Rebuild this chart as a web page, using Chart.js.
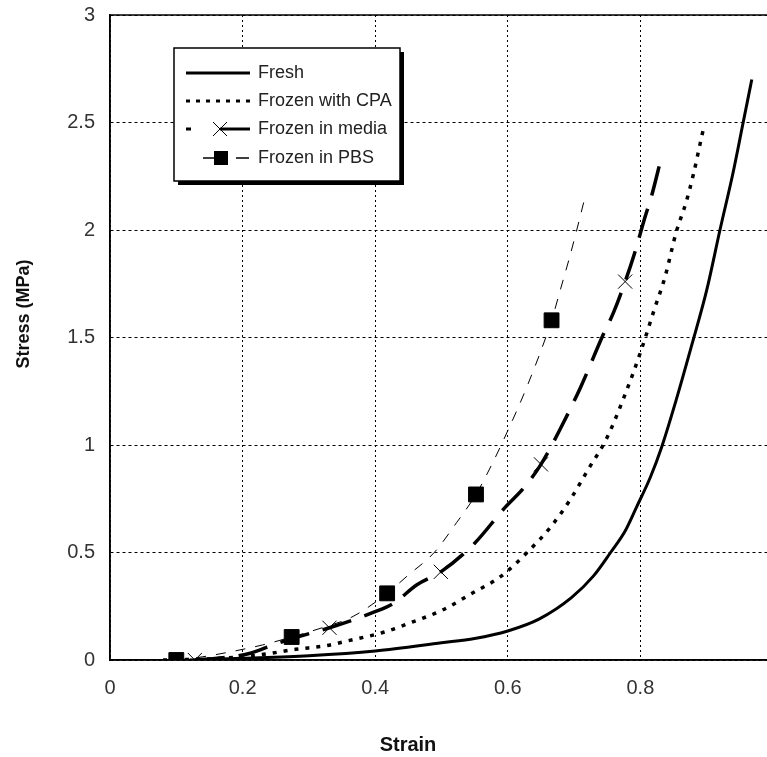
<!DOCTYPE html>
<html>
<head>
<meta charset="utf-8">
<script src="https://cdn.jsdelivr.net/npm/chart.js@4.4.1/dist/chart.umd.min.js"></script>
<style>
  html, body { margin: 0; padding: 0; background: #fff; overflow: hidden; }
  #wrap { position: relative; width: 800px; height: 757px; }
</style>
</head>
<body>
<div id="wrap"><canvas id="stress-chart" width="800" height="757"></canvas></div>
<script>
// values (strain, stress in MPa)
const freshStrain = [0.12, 0.2, 0.3, 0.4, 0.5, 0.55, 0.6, 0.647, 0.696, 0.729, 0.755, 0.777, 0.794, 0.815, 0.832, 0.854, 0.877, 0.9, 0.92, 0.94, 0.955, 0.968];
const freshStress = [0, 0.008, 0.02, 0.042, 0.08, 0.1, 0.135, 0.19, 0.29, 0.39, 0.5, 0.6, 0.71, 0.85, 0.99, 1.21, 1.46, 1.72, 2.0, 2.27, 2.5, 2.7];

const cpaStrain = [0.08, 0.15, 0.2, 0.24, 0.28, 0.323, 0.36, 0.414, 0.459, 0.5, 0.546, 0.59, 0.629, 0.665, 0.695, 0.722, 0.749, 0.775, 0.8, 0.822, 0.837, 0.854, 0.869, 0.88, 0.89, 0.895];
const cpaStress = [0, 0.005, 0.015, 0.03, 0.05, 0.065, 0.09, 0.13, 0.18, 0.23, 0.31, 0.39, 0.5, 0.62, 0.75, 0.89, 1.03, 1.22, 1.43, 1.64, 1.78, 1.99, 2.13, 2.26, 2.4, 2.47];

const mediaStrain = [0.128, 0.17, 0.21, 0.25, 0.286, 0.331, 0.396, 0.426, 0.463, 0.499, 0.549, 0.596, 0.624, 0.65, 0.68, 0.71, 0.742, 0.76, 0.777, 0.791, 0.807, 0.817, 0.831];
const mediaStress = [0, 0.01, 0.03, 0.075, 0.11, 0.15, 0.22, 0.26, 0.35, 0.41, 0.54, 0.71, 0.8, 0.91, 1.08, 1.27, 1.5, 1.62, 1.76, 1.89, 2.06, 2.16, 2.33];
const mediaMarkers = [0.128, 0.331, 0.499, 0.65, 0.777];

const pbsStrain = [0.1, 0.14, 0.185, 0.23, 0.274, 0.32, 0.365, 0.418, 0.448, 0.489, 0.523, 0.552, 0.576, 0.599, 0.63, 0.666, 0.68, 0.692, 0.704, 0.717];
const pbsStress = [0, 0.015, 0.04, 0.07, 0.107, 0.15, 0.2, 0.31, 0.39, 0.5, 0.64, 0.77, 0.91, 1.06, 1.28, 1.58, 1.73, 1.86, 2.0, 2.16];
const pbsMarkers = [0.1, 0.274, 0.418, 0.552, 0.666];

const seriesNames = ['Fresh', 'Frozen with CPA', 'Frozen in media', 'Frozen in PBS'];
const xTicks = [0, 0.2, 0.4, 0.6, 0.8, 1];
const yTicks = [0, 0.5, 1, 1.5, 2, 2.5, 3];

const FONT = "'Liberation Sans', Arial, sans-serif";

function pts(xs, ys) {
    return xs.map((x, i) => ({ x: x, y: ys[i] }));
}
function radii(xs, marks, r) {
    return xs.map(x => marks.includes(x) ? r : 0);
}

// frame, axis titles and the boxed legend
const decor = {
    id: 'decor',
    afterDraw(chart) {
        const ctx = chart.ctx;
        const a = chart.chartArea;
        ctx.save();
        ctx.strokeStyle = '#000';
        ctx.lineWidth = 1.5;
        ctx.setLineDash([]);
        ctx.strokeRect(a.left, a.top, a.right - a.left, a.bottom - a.top);

        ctx.fillStyle = '#111';
        ctx.font = 'bold 20px ' + FONT;
        ctx.textAlign = 'center';
        ctx.textBaseline = 'middle';
        ctx.fillText('Strain', 408, 745);
        ctx.save();
        ctx.translate(24, 314);
        ctx.rotate(-Math.PI / 2);
        ctx.font = 'bold 18px ' + FONT;
        ctx.fillText('Stress (MPa)', 0, 0);
        ctx.restore();

        // legend box with shadow
        const bx = 174, by = 48, bw = 226, bh = 133;
        ctx.fillStyle = '#000';
        ctx.fillRect(bx + 4, by + 4, bw, bh);
        ctx.fillStyle = '#fff';
        ctx.fillRect(bx, by, bw, bh);
        ctx.lineWidth = 1.5;
        ctx.strokeRect(bx, by, bw, bh);

        const rows = [73, 101, 129, 158];
        ctx.strokeStyle = '#000';
        ctx.fillStyle = '#000';
        // Fresh
        ctx.lineWidth = 3;
        ctx.beginPath(); ctx.moveTo(186, rows[0]); ctx.lineTo(250, rows[0]); ctx.stroke();
        // CPA
        ctx.setLineDash([4, 6]);
        ctx.beginPath(); ctx.moveTo(186, rows[1]); ctx.lineTo(250, rows[1]); ctx.stroke();
        ctx.setLineDash([]);
        // media
        ctx.fillRect(186, rows[2] - 1.5, 5, 3);
        ctx.beginPath(); ctx.moveTo(220, rows[2]); ctx.lineTo(250, rows[2]); ctx.stroke();
        ctx.lineWidth = 1;
        ctx.beginPath();
        ctx.moveTo(213, rows[2] - 7); ctx.lineTo(227, rows[2] + 7);
        ctx.moveTo(227, rows[2] - 7); ctx.lineTo(213, rows[2] + 7);
        ctx.stroke();
        // PBS
        ctx.lineWidth = 1.5;
        ctx.beginPath();
        ctx.moveTo(203, rows[3]); ctx.lineTo(215, rows[3]);
        ctx.moveTo(236, rows[3]); ctx.lineTo(249, rows[3]);
        ctx.stroke();
        ctx.fillRect(214, rows[3] - 7, 14, 14);

        ctx.fillStyle = '#222';
        ctx.font = '18px ' + FONT;
        ctx.textAlign = 'left';
        seriesNames.forEach((n, i) => ctx.fillText(n, 258, rows[i]));
        ctx.restore();
    }
};

const tickFont = { family: FONT, size: 20 };

new Chart(document.querySelector('#stress-chart').getContext('2d'), {
    type: 'line',
    data: {
        datasets: [
            {
                label: seriesNames[0],
                data: pts(freshStrain, freshStress),
                borderColor: '#000',
                borderWidth: 3,
                pointRadius: 0,
                cubicInterpolationMode: 'monotone'
            },
            {
                label: seriesNames[1],
                data: pts(cpaStrain, cpaStress),
                borderColor: '#000',
                borderWidth: 3.5,
                borderDash: [4, 7],
                pointRadius: 0,
                cubicInterpolationMode: 'monotone'
            },
            {
                label: seriesNames[2],
                data: pts(mediaStrain, mediaStress),
                borderColor: '#000',
                borderWidth: 3.5,
                borderDash: [30, 14],
                pointStyle: 'crossRot',
                pointRadius: radii(mediaStrain, mediaMarkers, 10),
                pointBorderWidth: 1,
                pointBorderColor: '#000',
                cubicInterpolationMode: 'monotone'
            },
            {
                label: seriesNames[3],
                data: pts(pbsStrain, pbsStress),
                borderColor: '#000',
                borderWidth: 1,
                borderDash: [10, 10],
                pointStyle: 'rect',
                pointRadius: radii(pbsStrain, pbsMarkers, 10.5),
                pointBackgroundColor: '#000',
                pointBorderColor: '#000',
                cubicInterpolationMode: 'monotone'
            }
        ]
    },
    options: {
        responsive: false,
        animation: false,
        layout: { padding: { top: 15, right: 27, left: 0, bottom: 0 } },
        plugins: { legend: { display: false }, tooltip: { enabled: false } },
        scales: {
            x: {
                type: 'linear',
                min: 0,
                max: 1,
                afterFit(s) { s.height = 97; s.paddingLeft = 0; s.paddingRight = 0; },
                afterBuildTicks(s) { s.ticks = xTicks.map(v => ({ value: v })); },
                grid: { color: '#000', lineWidth: 1, drawTicks: false },
                border: { display: true, color: '#000', width: 1.5, dash: [2, 3] },
                ticks: { padding: 16, color: '#333', font: tickFont, callback: v => String(v) }
            },
            y: {
                min: 0,
                max: 3,
                afterFit(s) { s.width = 110; s.paddingTop = 0; s.paddingBottom = 0; },
                afterBuildTicks(s) { s.ticks = yTicks.map(v => ({ value: v })); },
                grid: { color: '#000', lineWidth: 1, drawTicks: false },
                border: { display: true, color: '#000', width: 1.5, dash: [3, 3] },
                ticks: { padding: 15, color: '#333', font: tickFont, callback: v => String(v) }
            }
        }
    },
    plugins: [decor]
});
</script>
</body>
</html>
